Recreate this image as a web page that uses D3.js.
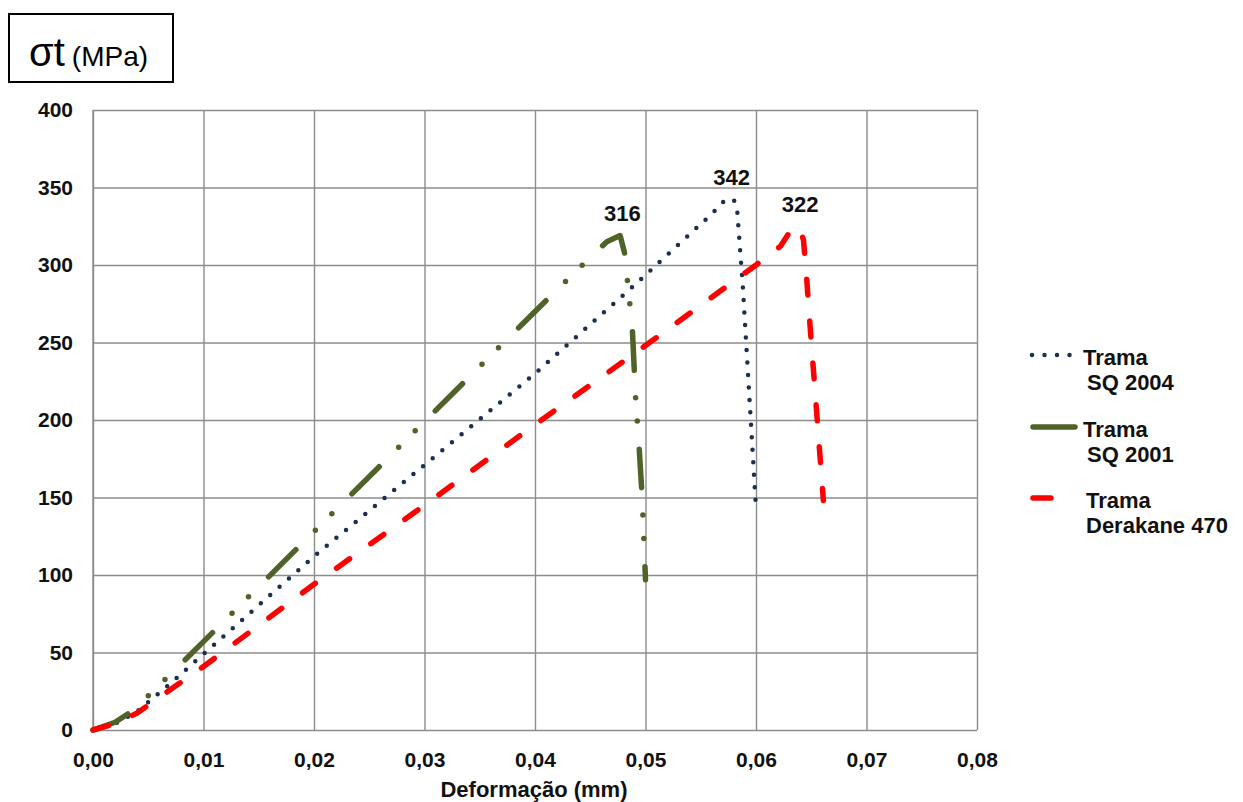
<!DOCTYPE html>
<html><head><meta charset="utf-8">
<script src="https://cdn.jsdelivr.net/npm/d3@7"></script>
<style>
body{margin:0;background:#fff}
svg{display:block}
text{font-family:"Liberation Sans",Arial,Helvetica,sans-serif}
</style>
</head><body>
<svg id="chart" width="1243" height="802"></svg>
<script>
// ---- data ----
const xTicks = [0, 0.01, 0.02, 0.03, 0.04, 0.05, 0.06, 0.07, 0.08];
const yTicks = [0, 50, 100, 150, 200, 250, 300, 350, 400];
const xTitle = "Deformação (mm)";
const yTitle = "σt";
const yUnit = "(MPa)";

const sq2004 = [[0,0],[0.002,4],[0.004,12],[0.005,18],[0.007,30],[0.01,49],[0.02,112],[0.03,171],[0.04,230],[0.049,287],[0.056,333],[0.0572,342],[0.058,342],[0.0583,335],[0.0588,287],[0.0594,215],[0.060,143]];
const sq2001 = [[0,0],[0.002,5],[0.0035,12],[0.005,22],[0.0083,45],[0.01,57],[0.02,128],[0.03,199],[0.04,270],[0.045,305],[0.0465,315],[0.0477,319],[0.0481,308],[0.0488,260],[0.0491,215],[0.0494,185],[0.0497,150],[0.050,97]];
const derakane = [[0,0],[0.002,4],[0.004,11],[0.006,21],[0.008,31],[0.01,41],[0.02,94],[0.03,145],[0.04,197],[0.05,248],[0.06,300],[0.0622,312],[0.0633,324],[0.0639,324.5],[0.0643,316],[0.0646,290],[0.0649,260],[0.0661,148]];

const seriesNames = [["Trama","SQ 2004"],["Trama","SQ 2001"],["Trama","Derakane 470"]];
const peakText = ["342","316","322"];
const peakAt = [[0.0578,342],[0.0479,319],[0.064,324.5]];

// ---- drawing ----
const svg = d3.select("#chart");
const x = d3.scaleLinear().domain([0, 0.08]).range([93, 977]);
const y = d3.scaleLinear().domain([0, 400]).range([730, 110]);
const gridColor = "#8c8c8c";
const FONT = '"Liberation Sans",Arial,sans-serif';

const xAxis = svg.append("g").attr("transform", `translate(0,${y(0)})`)
  .call(d3.axisBottom(x).tickValues(xTicks).tickSize(-(y(0)-y(400))).tickPadding(22)
    .tickFormat(d => d.toFixed(2).replace(".", ",")));
const yAxis = svg.append("g").attr("transform", `translate(${x(0)},0)`)
  .call(d3.axisLeft(y).tickValues(yTicks).tickSize(-(x(0.08)-x(0))).tickPadding(20));
[xAxis, yAxis].forEach(g => {
  g.select(".domain").remove();
  g.selectAll(".tick line").attr("stroke", gridColor).attr("stroke-width", 1.4);
  g.selectAll(".tick text").attr("fill", "#111").attr("font-size", 21).attr("font-weight", "bold")
    .attr("font-family", FONT);
});
svg.append("line").attr("x1", x(0)).attr("x2", x(0)).attr("y1", y(0)).attr("y2", y(400))
  .attr("stroke", gridColor).attr("stroke-width", 1.4);

const line = d3.line().x(d => x(d[0])).y(d => y(d[1]));

const styles = [
  {data: sq2004, color: "#1c2f4f", width: 4.5, dash: "0 12.5"},
  {data: sq2001, color: "#4f6228", width: 5.5, dash: "38.5 27.5 0 23.3 0 28.3"},
  {data: derakane, color: "#ff0000", width: 5.5, dash: "16 26"}
];
styles.forEach(s => {
  svg.append("path").datum(s.data).attr("d", line)
    .attr("fill", "none").attr("stroke", s.color).attr("stroke-width", s.width)
    .attr("stroke-dasharray", s.dash).attr("stroke-linecap", "round").attr("stroke-linejoin", "round");
});

// peak labels
peakText.forEach((t, i) => {
  svg.append("text").attr("x", x(peakAt[i][0])).attr("y", y(peakAt[i][1]) - 15)
    .attr("text-anchor", "middle").attr("font-size", 22).attr("font-weight", "bold").attr("fill", "#111").text(t);
});

// x title
svg.append("text").attr("x", (x(0)+x(0.08))/2 - 1).attr("y", 797).attr("text-anchor", "middle")
  .attr("font-size", 22).attr("font-weight", "bold").attr("fill", "#111").text(xTitle);

// y title box
svg.append("rect").attr("x", 9).attr("y", 14).attr("width", 164).attr("height", 68)
  .attr("fill", "#fff").attr("stroke", "#000").attr("stroke-width", 2);
const yt = svg.append("text").attr("x", 29).attr("y", 66).attr("fill", "#000");
yt.append("tspan").attr("font-size", 40).text(yTitle);
yt.append("tspan").attr("font-size", 28).attr("dx", 7).text(yUnit);

// legend
const legY = [355, 427, 498];
svg.append("line").attr("x1", 1032).attr("x2", 1070).attr("y1", legY[0]).attr("y2", legY[0])
  .attr("stroke", styles[0].color).attr("stroke-width", 4.5).attr("stroke-dasharray", "0 12.5").attr("stroke-linecap", "round");
svg.append("line").attr("x1", 1033).attr("x2", 1075).attr("y1", legY[1]).attr("y2", legY[1])
  .attr("stroke", styles[1].color).attr("stroke-width", 5.5).attr("stroke-linecap", "round");
svg.append("line").attr("x1", 1033).attr("x2", 1051).attr("y1", legY[2]).attr("y2", legY[2])
  .attr("stroke", styles[2].color).attr("stroke-width", 5.5).attr("stroke-linecap", "round");
const legX = [[1083,1087],[1083,1087],[1086,1086]];
seriesNames.forEach((nm, i) => {
  svg.append("text").attr("x", legX[i][0]).attr("y", legY[i] + 10).attr("font-size", 22)
    .attr("font-weight", "bold").attr("fill", "#111").text(nm[0]);
  svg.append("text").attr("x", legX[i][1]).attr("y", legY[i] + 35).attr("font-size", 22)
    .attr("font-weight", "bold").attr("fill", "#111").text(nm[1]);
});
</script>
</body></html>
